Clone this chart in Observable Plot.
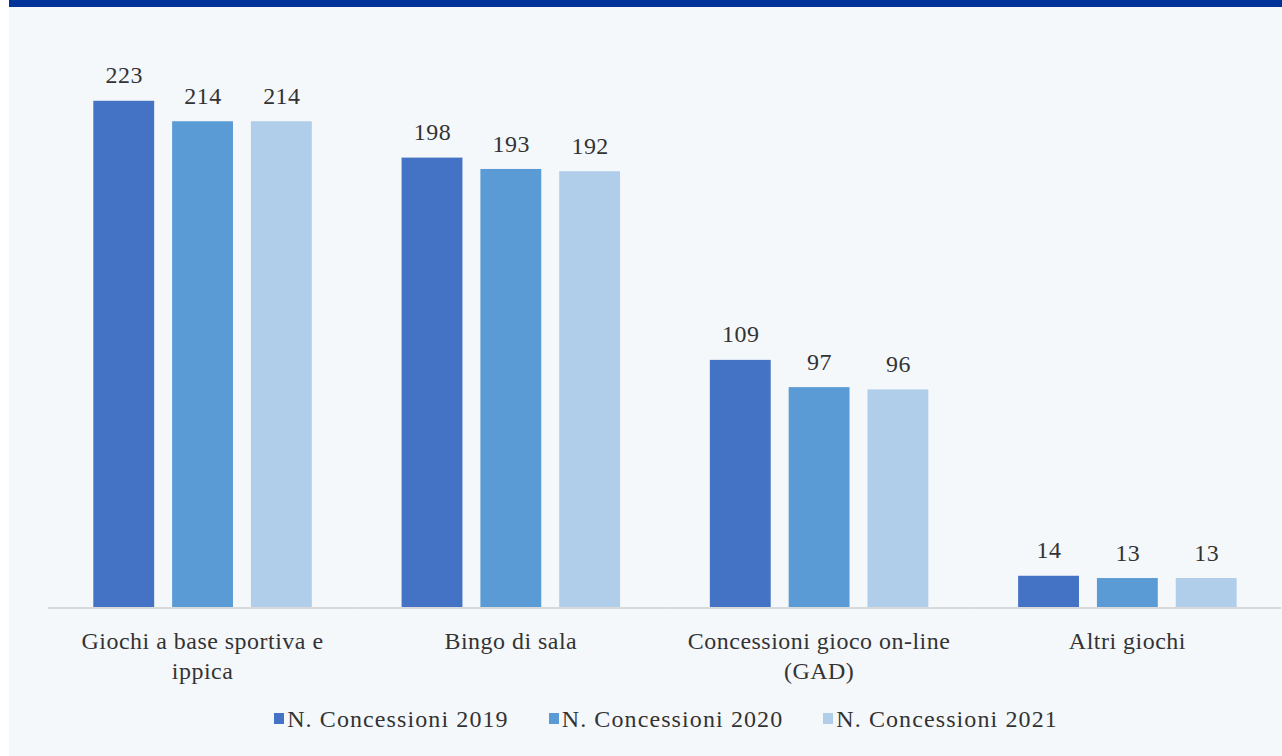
<!DOCTYPE html>
<html>
<head>
<meta charset="utf-8">
<script src="https://cdn.jsdelivr.net/npm/d3@7"></script>
<script src="https://cdn.jsdelivr.net/npm/@observablehq/plot@0.6"></script>
<style>
  html, body { margin: 0; padding: 0; background: #ffffff; width: 1282px; height: 756px; overflow: hidden; }
  #panel { position: absolute; left: 9px; top: 0; width: 1273px; height: 756px; background: #F5F8FB; overflow: hidden; }
  #topbar { position: absolute; left: 0; top: 0; width: 1273px; height: 7px; background: #00339A; }
  #chart { position: absolute; left: 0; top: 7px; }
  #chart svg text { letter-spacing: 0.5px; }
  #legend { position: absolute; left: 0; top: 705px; width: 1314px; display: flex; justify-content: center; gap: 40px;
            font-family: "Liberation Serif", serif; font-size: 24px; letter-spacing: 1.1px; color: #333333; line-height: 28px; }
  #legend .item { display: flex; align-items: center; }
  #legend .sw { width: 10px; height: 11px; margin-right: 3px; margin-top: -2px; }
</style>
</head>
<body>
<div id="panel">
  <div id="topbar"></div>
  <div id="chart"></div>
  <div id="legend"></div>
</div>
<script>
const categories = ["Giochi a base sportiva e\nippica", "Bingo di sala", "Concessioni gioco on-line\n(GAD)", "Altri giochi"];
const series = ["N. Concessioni 2019", "N. Concessioni 2020", "N. Concessioni 2021"];
const values2019 = [223, 198, 109, 14];
const values2020 = [214, 193, 97, 13];
const values2021 = [214, 192, 96, 13];
const colors = ["#4472C4", "#5B9BD5", "#B0CDEA"];

const allValues = [values2019, values2020, values2021];
const data = [];
categories.forEach((c, i) => {
  series.forEach((s, j) => data.push({category: c, series: s, value: allValues[j][i]}));
});

const font = "Liberation Serif, serif";
const chart = Plot.plot({
  width: 1276,
  height: 695,
  marginLeft: 38.5,
  marginRight: 0,
  marginTop: 32.5,
  marginBottom: 93,
  style: {background: "transparent", fontFamily: font, color: "#333333"},
  fx: {domain: categories, padding: 0},
  x: {domain: series, paddingInner: 0.23, paddingOuter: 0.567, axis: null},
  y: {domain: [0, 250], axis: null},
  color: {domain: series, range: colors},
  marks: [
    Plot.barY(data, {fx: "category", x: "series", y: "value", fill: "series"}),
    Plot.ruleY([0], {stroke: "#D9D9D9", strokeWidth: 2}),
    Plot.text(data, {fx: "category", x: "series", y: "value", text: d => String(d.value),
      lineAnchor: "bottom", dy: -18, fontSize: 24, fill: "#333333"}),
    Plot.axisFx({anchor: "bottom", tickSize: 0, tickPadding: 20, fontSize: 24, lineHeight: 1.25, label: null, fill: "#333333"})
  ]
});
document.getElementById("chart").appendChild(chart);

const legend = document.getElementById("legend");
series.forEach((s, j) => {
  const item = document.createElement("div");
  item.className = "item";
  const sw = document.createElement("span");
  sw.className = "sw";
  sw.style.background = colors[j];
  const t = document.createElement("span");
  t.textContent = s;
  item.appendChild(sw);
  item.appendChild(t);
  legend.appendChild(item);
});
</script>
</body>
</html>
